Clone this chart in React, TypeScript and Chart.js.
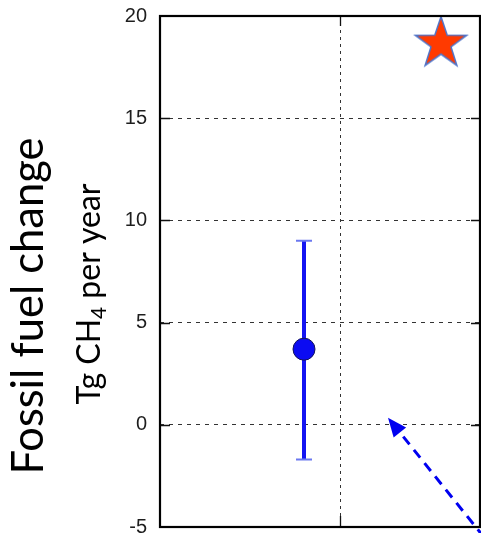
import React, { useEffect, useRef } from 'react';
import { Chart, registerables } from 'chart.js';

Chart.register(...registerables);

// ---- data ----
const yMin = -5;
const yMax = 20;
const yStep = 5;
const xMin = 0;
const xMax = 16;
const xGridValues = [9];
const pointX = [7.2];
const pointY = [3.7];
const errLow = [-1.7];
const errHigh = [9.0];
const starX = [14.05];
const starY = [18.65];
const arrowFrom = [16.2, -5.5];
const arrowTo = [11.4, 0.35];
const titleMain = 'Fossil fuel change';
const unitParts = ['Tg CH', '4', ' per year'];

function makeStar(R: number) {
  const size = Math.ceil(R * 2 + 6);
  const c = document.createElement('canvas');
  c.width = size;
  c.height = size;
  const g = c.getContext('2d')!;
  const cx = size / 2;
  const cy = size / 2;
  const r = R * 0.39;
  g.beginPath();
  for (let i = 0; i < 10; i++) {
    const ang = -Math.PI / 2 + (i * Math.PI) / 5;
    const rad = i % 2 === 0 ? R : r;
    const px = cx + rad * Math.cos(ang);
    const py = cy + rad * Math.sin(ang);
    if (i === 0) g.moveTo(px, py);
    else g.lineTo(px, py);
  }
  g.closePath();
  g.fillStyle = '#ff3a00';
  g.fill();
  g.lineWidth = 1.5;
  g.strokeStyle = '#4f74c8';
  g.stroke();
  return c;
}

const decorPlugin = {
  id: 'decor',
  beforeDatasetsDraw(chart: any) {
    const { ctx, scales } = chart;
    const x = scales.x;
    const y = scales.y;
    ctx.save();
    for (let i = 0; i < pointX.length; i++) {
      const px = x.getPixelForValue(pointX[i]);
      const pyHi = y.getPixelForValue(errHigh[i]);
      const pyLo = y.getPixelForValue(errLow[i]);
      ctx.strokeStyle = '#1414f2';
      ctx.lineWidth = 4;
      ctx.beginPath();
      ctx.moveTo(px, pyHi);
      ctx.lineTo(px, pyLo);
      ctx.stroke();
      ctx.strokeStyle = '#6b78f0';
      ctx.lineWidth = 2;
      ctx.beginPath();
      ctx.moveTo(px - 8, pyHi);
      ctx.lineTo(px + 8, pyHi);
      ctx.moveTo(px - 8, pyLo);
      ctx.lineTo(px + 8, pyLo);
      ctx.stroke();
    }
    ctx.restore();
  },
  afterDatasetsDraw(chart: any) {
    const { ctx, chartArea: a, scales } = chart;
    const x = scales.x;
    const y = scales.y;
    ctx.save();
    // inside tick marks
    ctx.strokeStyle = '#111';
    ctx.lineWidth = 1.3;
    ctx.beginPath();
    for (let v = yMin + yStep; v < yMax; v += yStep) {
      const py = Math.round(y.getPixelForValue(v)) + 0.5;
      ctx.moveTo(a.left, py);
      ctx.lineTo(a.left + 10, py);
      ctx.moveTo(a.right - 9, py);
      ctx.lineTo(a.right, py);
    }
    for (const xv of xGridValues) {
      const px = Math.round(x.getPixelForValue(xv)) + 0.5;
      ctx.moveTo(px, a.top);
      ctx.lineTo(px, a.top + 10);
      ctx.moveTo(px, a.bottom - 11);
      ctx.lineTo(px, a.bottom);
    }
    ctx.stroke();
    // frame
    ctx.strokeStyle = '#000';
    ctx.lineWidth = 2.2;
    ctx.strokeRect(a.left, a.top, a.right - a.left, a.bottom - a.top);

    // arrow
    const x0 = x.getPixelForValue(arrowFrom[0]);
    const y0 = y.getPixelForValue(arrowFrom[1]);
    const x1 = x.getPixelForValue(arrowTo[0]);
    const y1 = y.getPixelForValue(arrowTo[1]);
    const ang = Math.atan2(y1 - y0, x1 - x0);
    const headLen = 19;
    const headHalf = 8;
    const bx = x1 - headLen * Math.cos(ang);
    const by = y1 - headLen * Math.sin(ang);
    ctx.strokeStyle = '#0000f0';
    ctx.lineWidth = 3;
    ctx.setLineDash([10, 7]);
    ctx.beginPath();
    ctx.moveTo(x0, y0);
    ctx.lineTo(bx, by);
    ctx.stroke();
    ctx.setLineDash([]);
    ctx.fillStyle = '#0000f0';
    ctx.beginPath();
    ctx.moveTo(x1, y1);
    ctx.lineTo(bx + headHalf * Math.sin(ang), by - headHalf * Math.cos(ang));
    ctx.lineTo(bx - headHalf * Math.sin(ang), by + headHalf * Math.cos(ang));
    ctx.closePath();
    ctx.fill();
    ctx.restore();
  },
  afterDraw(chart: any) {
    const { ctx } = chart;
    ctx.save();
    ctx.fillStyle = '#000';
    ctx.textBaseline = 'alphabetic';
    // main title
    ctx.save();
    ctx.translate(43, 306);
    ctx.rotate(-Math.PI / 2);
    ctx.font = '43.5px Lato, "Open Sans", sans-serif';
    ctx.textAlign = 'center';
    ctx.fillText(titleMain, 0, 0);
    ctx.restore();
    // unit line with subscript
    ctx.save();
    ctx.translate(100, 294);
    ctx.rotate(-Math.PI / 2);
    const size = 32;
    const big = `${size}px Lato, "Open Sans", sans-serif`;
    const small = `${size * 0.65}px Lato, "Open Sans", sans-serif`;
    ctx.textAlign = 'left';
    ctx.font = big;
    const w1 = ctx.measureText(unitParts[0]).width;
    const w3 = ctx.measureText(unitParts[2]).width;
    ctx.font = small;
    const w2 = ctx.measureText(unitParts[1]).width;
    let sx = -(w1 + w2 + w3) / 2;
    ctx.font = big;
    ctx.fillText(unitParts[0], sx, 0);
    sx += w1;
    ctx.font = small;
    ctx.fillText(unitParts[1], sx, size * 0.18);
    sx += w2;
    ctx.font = big;
    ctx.fillText(unitParts[2], sx, 0);
    ctx.restore();
    ctx.restore();
  },
};

export default function App() {
  const ref = useRef<HTMLCanvasElement>(null);
  useEffect(() => {
    const canvas = ref.current!;
    const star = makeStar(27);
    const chart = new Chart(canvas, {
      type: 'scatter',
      data: {
        datasets: [
          {
            label: 'estimate',
            data: pointX.map((v, i) => ({ x: v, y: pointY[i] })),
            pointRadius: 11,
            pointHoverRadius: 11,
            backgroundColor: '#0b0bf2',
            borderColor: '#14145a',
            borderWidth: 1,
          },
          {
            label: 'star',
            data: starX.map((v, i) => ({ x: v, y: starY[i] })),
            pointStyle: star as any,
            pointRadius: 27,
          },
        ],
      },
      options: {
        responsive: false,
        animation: false,
        devicePixelRatio: 1,
        layout: { autoPadding: false, padding: { top: 16, right: 1, bottom: 6, left: 0 } },
        plugins: {
          legend: { display: false },
          tooltip: { enabled: false },
        },
        events: [],
        scales: {
          x: {
            type: 'linear',
            min: xMin,
            max: xMax,
            ticks: { display: false },
            afterBuildTicks: (s: any) => {
              s.ticks = xGridValues.map((v) => ({ value: v }));
            },
            afterFit: (s: any) => {
              s.height = 0;
              s.paddingLeft = 0;
              s.paddingRight = 0;
            },
            grid: { color: '#333', lineWidth: 1, drawTicks: false },
            border: { display: false, dash: [3, 4] },
          },
          y: {
            type: 'linear',
            min: yMin,
            max: yMax,
            ticks: {
              stepSize: yStep,
              padding: 13,
              color: '#1e1e1e',
              font: { family: '"Liberation Sans", Arial, sans-serif', size: 20 },
            },
            afterFit: (s: any) => {
              s.width = 160;
              s.paddingTop = 0;
              s.paddingBottom = 0;
            },
            grid: {
              drawTicks: false,
              lineWidth: 1,
              color: (c: any) =>
                c.tick && (c.tick.value === yMin || c.tick.value === yMax) ? 'rgba(0,0,0,0)' : '#333',
            },
            border: { display: false, dash: [4, 5] },
          },
        },
      },
      plugins: [decorPlugin],
    });
    return () => chart.destroy();
  }, []);
  return (
    <div style={{ position: 'fixed', left: 0, top: 0, width: 481, height: 533, background: '#fff' }}>
      <canvas ref={ref} width={481} height={533} style={{ width: 481, height: 533, display: 'block' }} />
    </div>
  );
}
